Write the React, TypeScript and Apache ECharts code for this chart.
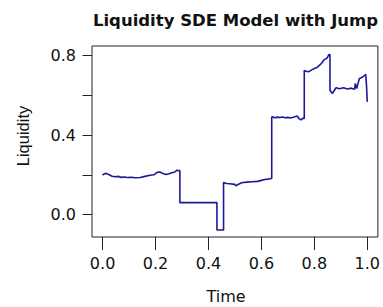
import React, { useEffect, useRef } from "react";
import * as echarts from "echarts";

const titleText = "Liquidity SDE Model with Jump";
const xName = "Time";
const yName = "Liquidity";
const xTicks = [0, 0.2, 0.4, 0.6, 0.8, 1.0];
const yTicks = [0, 0.2, 0.4, 0.6, 0.8];
const yLabels = [0, 0.4, 0.8];

const times = [
  0.0, 0.006, 0.014, 0.025, 0.036, 0.048, 0.059, 0.07, 0.082, 0.093, 0.108, 0.123, 0.142, 0.16, 0.179,
  0.194, 0.206, 0.217, 0.228, 0.239, 0.251, 0.262, 0.273, 0.281, 0.288, 0.292,
  0.292, 0.432,
  0.432, 0.457,
  0.457, 0.468, 0.48, 0.5, 0.503, 0.51, 0.525, 0.545, 0.565, 0.585, 0.6, 0.612, 0.625, 0.636, 0.639,
  0.639, 0.642, 0.65, 0.66, 0.67, 0.68, 0.69, 0.7, 0.71, 0.72, 0.735, 0.742, 0.75, 0.757, 0.762,
  0.762, 0.765, 0.778, 0.79, 0.8, 0.81, 0.82, 0.83, 0.836, 0.848, 0.855, 0.859,
  0.859, 0.868, 0.882, 0.895, 0.91, 0.925, 0.94, 0.952, 0.955, 0.96, 0.97, 0.983, 0.994, 0.997, 1.0,
];
const liquidity = [
  0.198, 0.205, 0.207, 0.2, 0.193, 0.19, 0.192, 0.187, 0.189, 0.186, 0.188, 0.185, 0.186, 0.192, 0.198,
  0.2, 0.212, 0.214, 0.206, 0.201, 0.205, 0.21, 0.214, 0.223, 0.221, 0.222,
  0.06, 0.06,
  -0.078, -0.078,
  0.161, 0.156, 0.155, 0.152, 0.144, 0.15, 0.16, 0.163, 0.165, 0.167, 0.172, 0.176, 0.178, 0.181, 0.181,
  0.491, 0.492, 0.487, 0.49, 0.488, 0.491, 0.487, 0.489, 0.486, 0.49, 0.496, 0.483, 0.476, 0.485, 0.483,
  0.726, 0.722, 0.718, 0.728, 0.735, 0.74, 0.752, 0.765, 0.778, 0.787, 0.805, 0.805,
  0.625, 0.609, 0.638, 0.633, 0.638, 0.632, 0.636, 0.63, 0.66, 0.634, 0.684, 0.692, 0.706, 0.65, 0.567,
];

const hFont = "DejaVu Sans";
const vFont = "Liberation Sans";

export default function App() {
  const ref = useRef<HTMLDivElement>(null);
  useEffect(() => {
    if (!ref.current) return;
    const chart = echarts.init(ref.current, null, { renderer: "svg" });
    const data = times.map((t, i) => [t, liquidity[i]]);
    chart.setOption({
      animation: false,
      backgroundColor: "#ffffff",
      grid: {
        left: 92,
        right: 4,
        top: 46,
        bottom: 70,
        show: true,
        borderColor: "#222",
        borderWidth: 1,
        backgroundColor: "transparent",
      },
      xAxis: {
        type: "value",
        position: "bottom",
        min: -0.04,
        max: 1.04,
        axisLine: { show: false, onZero: false },
        splitLine: { show: false },
        axisTick: {
          show: true,
          inside: false,
          length: 13,
          customValues: xTicks,
          lineStyle: { color: "#222", width: 1 },
        },
        axisLabel: {
          customValues: xTicks,
          margin: 18,
          fontFamily: hFont,
          fontSize: 16,
          color: "#111",
          formatter: (v: number) => v.toFixed(1),
        },
      },
      yAxis: {
        type: "value",
        position: "left",
        min: -0.113,
        max: 0.848,
        axisLine: { show: false, onZero: false },
        splitLine: { show: false },
        axisTick: {
          show: true,
          inside: false,
          length: 9.5,
          customValues: yTicks,
          lineStyle: { color: "#222", width: 1 },
        },
        axisLabel: {
          customValues: yLabels,
          margin: 16,
          fontFamily: hFont,
          fontSize: 16,
          color: "#111",
          formatter: (v: number) => v.toFixed(1),
        },
      },
      graphic: [
        {
          type: "text",
          x: 235.5,
          y: 20.8,
          style: {
            text: titleText,
            fontFamily: hFont,
            fontWeight: "bold",
            fontSize: 16.5,
            fill: "#111",
            textAlign: "center",
            textVerticalAlign: "middle",
          },
        },
        {
          type: "text",
          x: 226,
          y: 296,
          style: {
            text: xName,
            fontFamily: hFont,
            fontSize: 16,
            fill: "#111",
            textAlign: "center",
            textVerticalAlign: "middle",
          },
        },
        {
          type: "text",
          x: 22.5,
          y: 136,
          rotation: Math.PI / 2,
          style: {
            text: yName,
            fontFamily: vFont,
            fontSize: 16.5,
            fill: "#111",
            textAlign: "center",
            textVerticalAlign: "middle",
          },
        },
      ],
      series: [
        {
          type: "line",
          data,
          showSymbol: false,
          symbol: "none",
          lineStyle: { color: "#1a1a96", width: 1.6 },
          z: 5,
        },
      ],
    });
    return () => chart.dispose();
  }, []);
  return (
    <div
      ref={ref}
      style={{ position: "fixed", left: 0, top: 0, width: 383, height: 307 }}
    />
  );
}
